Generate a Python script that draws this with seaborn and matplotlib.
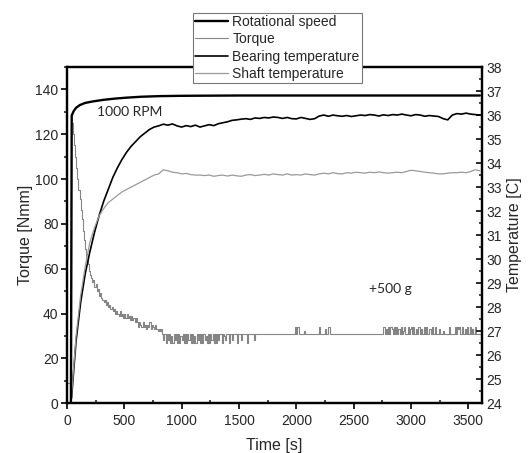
import numpy as np
import pandas as pd
import seaborn as sns
import matplotlib.pyplot as plt
from matplotlib.ticker import MultipleLocator

sns.set_style('ticks')
plt.rcParams['font.family'] = ['Liberation Sans', 'DejaVu Sans']

# rotational speed [RPM]
rpm_t = [0, 35, 42, 60, 80, 113, 160, 230, 320, 420, 520, 650, 810, 1000, 1500, 2000, 3000, 3600]
rpm = [0, 0, 935, 950, 960, 969, 976, 981, 986, 990, 993, 996, 998, 999, 1000, 1000, 1000, 1000]

# torque [Nmm], one sample every 10 s
torque = (
    [9, 9, 9, 9]
    + [125, 120, 115, 110, 105, 100, 95, 91, 86, 82, 77, 73, 69, 65, 62, 59, 57]
    + [56, 54, 55, 52, 53, 50, 51, 48, 49, 47]
    + [46, 45, 46, 44, 45, 43, 44, 42, 43, 41]
    + [42, 40, 41, 40, 39, 41, 39, 40, 38, 40]
    + [38, 40, 38, 39, 37, 39, 37, 38, 36, 38]
    + [36, 34, 36, 35, 34, 36, 34, 35, 33, 35]
    + [34, 36, 33, 35, 34, 33, 35, 33, 32, 33]
    + [32, 33, 31, 28, 31]
    + [27, 31, 28, 31, 27, 30, 27, 31, 28, 31, 27, 31, 27, 30, 28, 31, 27, 31, 27, 31,
       28, 31, 27, 31, 27, 30, 27, 31, 28, 31, 27, 31, 27, 31, 28, 30, 27, 31, 27, 31,
       28, 31, 27, 31, 27]
    + [31, 28, 31, 31, 27, 31, 30, 28, 31, 31, 27, 31, 31, 28, 31, 31, 31, 27, 31, 31,
       31, 28, 31, 31, 31, 31, 27, 31, 31, 31, 31, 31, 28, 31, 31, 31, 31, 31, 31, 31]
    + [31, 31, 31, 31, 31, 31, 31, 31, 31, 31]
    + [31, 31, 31, 31, 31, 31, 31, 31, 31, 31]
    + [31, 31, 31, 31, 31, 31, 31, 31, 34, 31]
    + [34, 31, 31, 31, 31, 31, 32, 31, 31, 31]
    + [31, 31, 31, 31, 31, 31, 31, 31, 31, 34]
    + [31, 31, 31, 31, 33, 31, 31, 34, 31, 31]
    + [31, 31, 31, 31, 31, 31, 31, 31, 31, 31]
    + [31, 31, 31, 31, 31, 31, 31, 31, 31, 31]
    + [31, 31, 31, 31, 31, 31, 31, 31, 31, 31]
    + [31, 31, 31, 31, 31, 31, 31, 31, 31, 31]
    + [31, 31, 31, 31, 31, 34, 31, 33, 31, 34]
    + [31, 34, 33, 31, 34, 31, 34, 31, 33, 31]
    + [34, 31, 32, 34, 31, 31, 34, 31, 33, 34]
    + [31, 34, 31, 33, 31, 34, 34, 31, 33, 31]
    + [34, 31, 34, 31, 31, 33, 31, 34, 31, 31]
    + [34, 31, 31, 33, 31, 31, 31, 32, 31, 31]
    + [31, 31, 34, 31, 31, 31, 31, 34, 31, 34]
    + [33, 34, 31, 34, 31, 31, 33, 31, 34, 31]
    + [34, 31, 33, 31, 31, 34, 31, 31, 31, 31]
)
torque_t = 10 * np.arange(len(torque))

# temperatures [C], one sample every 40 s from 40 s
temp_t = np.arange(40, 3601, 40)
bearing = [
    24.2, 26.6, 28.2, 29.4, 30.3, 31.1, 31.8, 32.4, 32.9, 33.4,
    33.8, 34.15, 34.45, 34.7, 34.9, 35.1, 35.25, 35.4, 35.5,
    35.55, 35.62, 35.58, 35.63, 35.55, 35.50, 35.56, 35.52, 35.58, 35.50,
    35.55, 35.60, 35.56, 35.64, 35.68, 35.72, 35.78, 35.80, 35.83, 35.85,
    35.82, 35.88, 35.86, 35.90, 35.88, 35.92, 35.90, 35.86, 35.90, 35.85,
    35.84, 35.90, 35.86, 35.82, 35.85, 35.96, 36.00, 35.95, 36.00, 35.97,
    35.95, 35.98, 35.94, 35.97, 36.00, 35.98, 36.02, 36.00, 35.96, 36.01,
    35.98, 36.02, 36.00, 36.04, 36.00, 35.97, 36.02, 36.00, 35.95, 35.98,
    35.96, 35.94, 35.85, 35.80, 36.00, 36.06, 36.04, 36.08, 36.04, 36.02,
    36.00,
]
shaft = [
    24.3, 26.8, 28.5, 29.7, 30.7, 31.3, 31.8, 32.1, 32.35, 32.5,
    32.65, 32.8, 32.9, 33.0, 33.1, 33.2, 33.3, 33.4, 33.5,
    33.55, 33.72, 33.68, 33.62, 33.6, 33.55, 33.57, 33.52, 33.5, 33.5,
    33.48, 33.5, 33.45, 33.48, 33.5, 33.46, 33.5, 33.47, 33.45, 33.5,
    33.52, 33.48, 33.5, 33.53, 33.5, 33.55, 33.52, 33.5, 33.55, 33.5,
    33.52, 33.5, 33.55, 33.52, 33.5, 33.55, 33.58, 33.55, 33.6, 33.56,
    33.55, 33.6, 33.58, 33.62, 33.6, 33.58, 33.62, 33.6, 33.63, 33.6,
    33.58, 33.6, 33.62, 33.6, 33.65, 33.7, 33.68, 33.65, 33.62, 33.6,
    33.58, 33.55, 33.55, 33.58, 33.6, 33.6, 33.62, 33.6, 33.65, 33.72,
    33.68,
]

labels = ['Rotational speed', 'Torque', 'Bearing temperature', 'Shaft temperature']

fig = plt.figure(figsize=(5.31, 4.53), dpi=100)
ax = fig.add_axes([0.126, 0.110, 0.782, 0.742])
ax2 = ax.twinx()
ax3 = ax.twinx()

# torque: stepped signal, like the logger output
sns.lineplot(x=torque_t, y=torque, ax=ax, color='#858585', lw=0.8,
             drawstyle='steps-post', legend=False)
h_torque = ax.get_lines()[-1]
sns.lineplot(x=temp_t, y=bearing, ax=ax2, color='black', lw=1.2, legend=False)
h_bearing = ax2.get_lines()[-1]
sns.lineplot(x=temp_t, y=shaft, ax=ax2, color='#9a9a9a', lw=0.9, legend=False)
h_shaft = ax2.get_lines()[-1]
sns.lineplot(x=rpm_t, y=rpm, ax=ax3, color='black', lw=1.7, legend=False)
h_rpm = ax3.get_lines()[-1]

ax.set_xlim(0, 3620)
ax.set_ylim(0, 150)
ax2.set_ylim(24, 38)
ax3.set_ylim(0, 1092.5)
ax3.set_axis_off()

ax.xaxis.set_major_locator(MultipleLocator(500))
ax.xaxis.set_minor_locator(MultipleLocator(250))
ax.yaxis.set_major_locator(MultipleLocator(20))
ax.yaxis.set_minor_locator(MultipleLocator(10))
ax2.yaxis.set_major_locator(MultipleLocator(1))
ax2.yaxis.set_minor_locator(MultipleLocator(0.5))

ax.tick_params(which='major', direction='out', length=4, width=1.4, labelsize=10, pad=2)
ax.tick_params(axis='x', which='major', pad=4)
ax.tick_params(which='minor', direction='out', length=2.5, width=1.2)
ax.tick_params(axis='x', which='minor', direction='in')
ax2.tick_params(which='major', direction='in', length=4, width=1.4, labelsize=10, pad=3)
ax2.tick_params(which='minor', direction='in', length=2.5, width=1.2)

for a in (ax, ax2):
    for s in a.spines.values():
        s.set_visible(True)
        s.set_linewidth(1.6)
        s.set_color('black')

ax.set_xlabel('Time [s]', fontsize=11.5, labelpad=7)
ax.set_ylabel('Torque [Nmm]', fontsize=11.5, labelpad=2)
ax2.set_ylabel('Temperature [C]', fontsize=11.5, labelpad=4)

ax.text(550, 130, '1000 RPM', fontsize=10, family=['Lato', 'DejaVu Sans'], ha='center', va='center')
ax.text(2818, 51, '+500 g', fontsize=10, family=['Lato', 'DejaVu Sans'], ha='center', va='center')

leg = fig.legend([h_rpm, h_torque, h_bearing, h_shaft], labels,
                 loc='upper center', bbox_to_anchor=(0.522, 0.972),
                 fontsize=10, frameon=True, fancybox=False, framealpha=1,
                 edgecolor='#777777', borderpad=0.15, labelspacing=0.25,
                 handlelength=2.4, handletextpad=0.3, borderaxespad=0)
leg.get_frame().set_linewidth(0.8)

fig.savefig('out.png', dpi=100)
